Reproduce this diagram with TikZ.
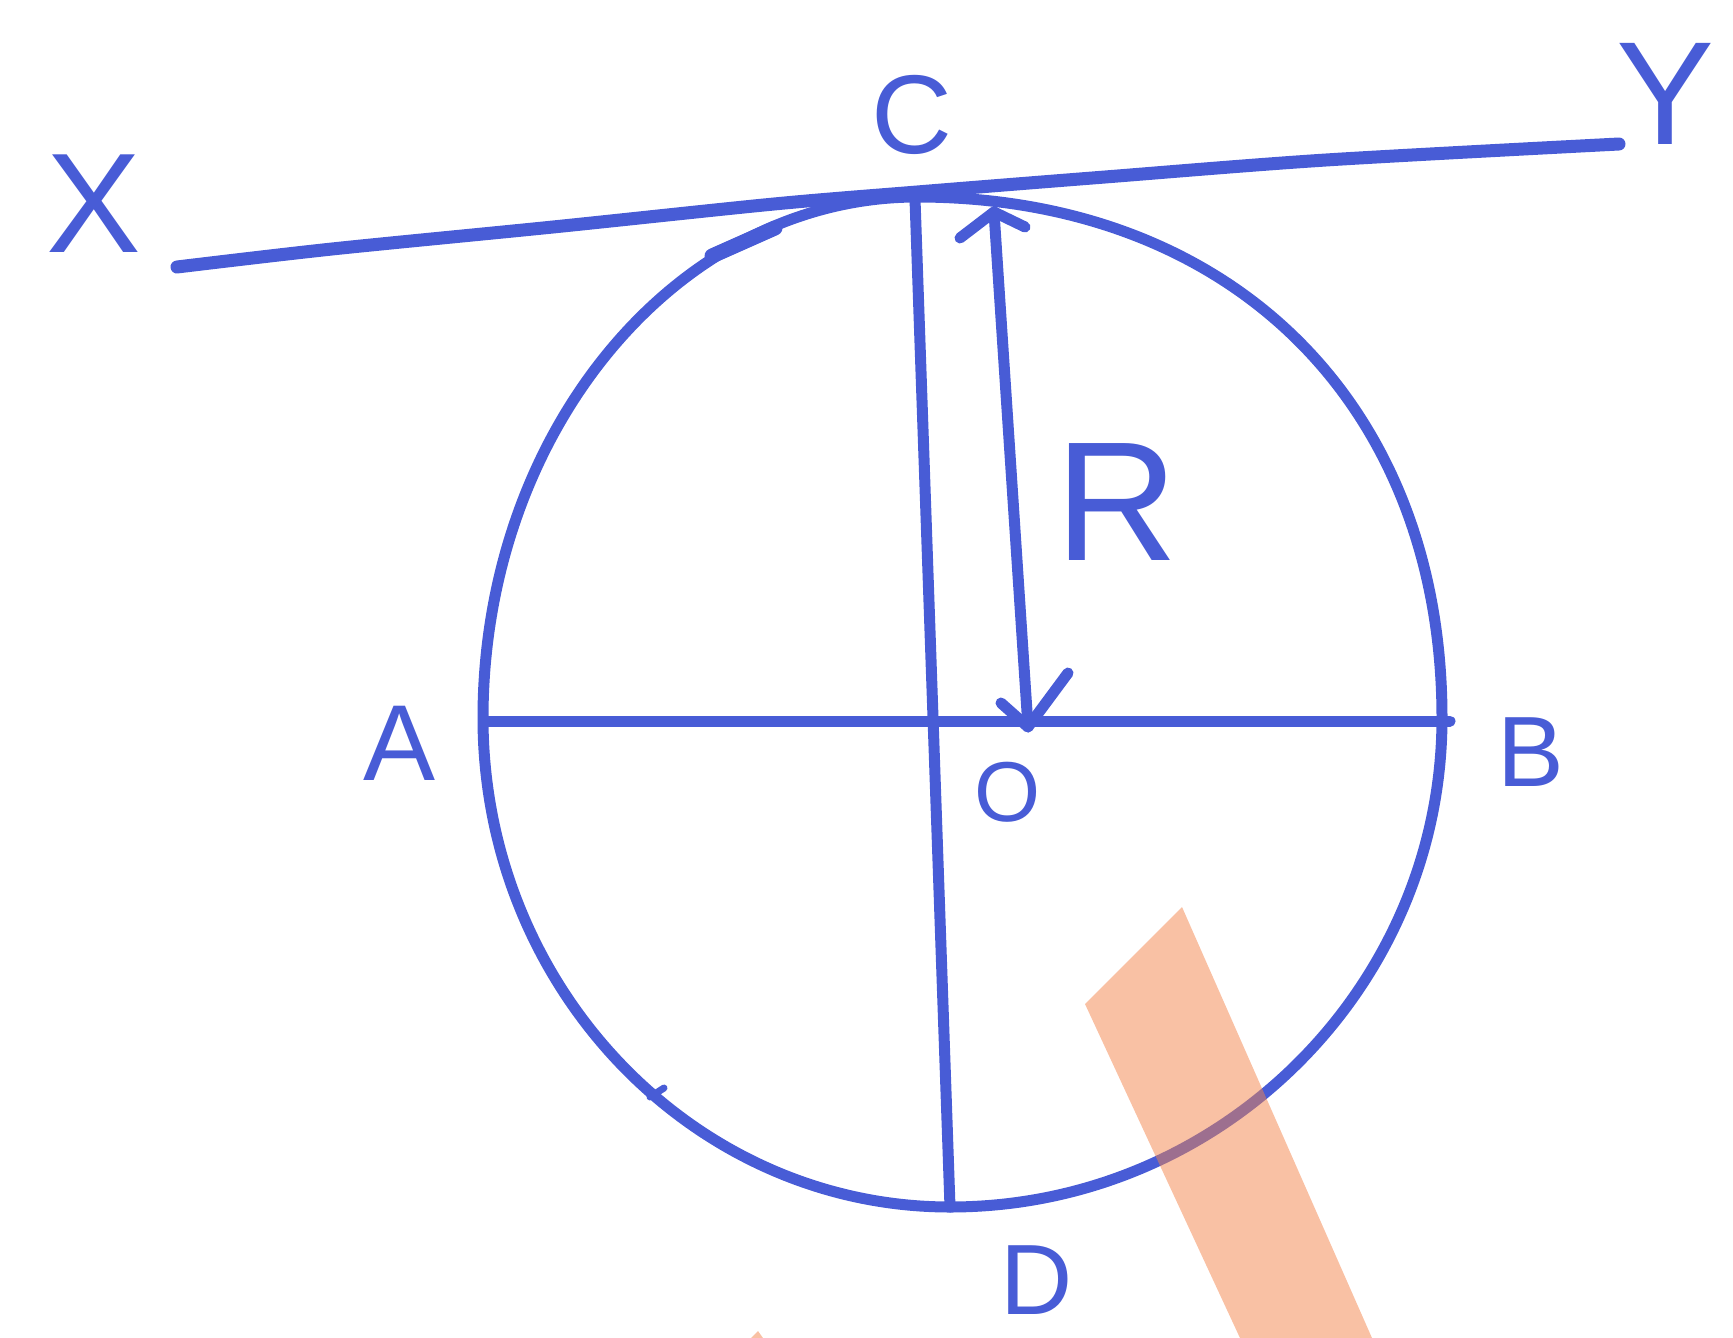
\documentclass[tikz,border=0pt]{standalone}
\usepackage{fontspec}
\setmainfont{Liberation Sans}
\begin{document}
\begin{tikzpicture}[x=1pt,y=-1pt,line cap=round,line join=round]
\definecolor{pen}{RGB}{72,92,214}
\definecolor{hilite}{RGB}{243,131,73}
\tikzset{
  ink/.style={draw=pen,line width=11pt},
  lbl/.style={text=pen,inner sep=0pt,font=\fontsize{#1}{#1}\selectfont}
}
\useasboundingbox (0,0) rectangle (1733,1338);
% named points
\coordinate (Cpt) at (915,199);
\coordinate (Dpt) at (950,1207);
\coordinate (Apt) at (486,721);
\coordinate (Bpt) at (1450,721);
\coordinate (Xend) at (177,267);
\coordinate (Yend) at (1619,144);
\coordinate (Rtop) at (994,212);
\coordinate (Rbot) at (1028,727);
% circle
\draw[ink] (917,197) .. controls (1232,197) and (1442,405) .. (1442,718)
  .. controls (1442,987) and (1221,1207) .. (950,1207)
  .. controls (693,1207) and (483,987) .. (483,718)
  .. controls (483,431) and (678,197) .. cycle;
% thicker marks on the circle
\draw[pen,line width=15pt] (712,256) -- (775,228);
\draw[pen,line width=7pt] (650,1097) -- (664,1088);
% tangent XY
\draw[ink,line width=13pt] plot[smooth,tension=0.5] coordinates {
 (Xend) (332,249) (553,227) (774,204) (917,192) (1105,177) (1326,160) (Yend)};
% diameters
\draw[ink] (Cpt) -- (Dpt);
\draw[ink] (Apt) -- (Bpt);
% radius arrow
\draw[ink] (Rtop) -- (Rbot);
\draw[ink] ([shift={(-34,26)}]Rtop) -- (Rtop) -- ([shift={(31,15)}]Rtop);
\draw[ink] ([shift={(-27,-24)}]Rbot) -- (Rbot) -- ([shift={(40,-54)}]Rbot);
% labels
\node[lbl=142] (X) at (94,204) {X};
\node[lbl=112] (C) at (912,115) {C};
\node[lbl=147] (Y) at (1666,94) {Y};
\node[lbl=108] (A) at (400,743) {A};
\node[lbl=100] (B) at (1531,752) {B};
\node[lbl=85] (O) at (1008,792) {O};
\node[lbl=170] (R) at (1117,502) {R};
\node[lbl=100] (D) at (1037,1280) {D};
% highlighter strokes
\fill[hilite,fill opacity=0.5] (1182,907) -- (1085,1004) -- (1240,1338) -- (1372,1338) -- cycle;
\fill[hilite,fill opacity=0.5] (758,1331) -- (751,1338) -- (763,1338) -- cycle;
\end{tikzpicture}
\end{document}
